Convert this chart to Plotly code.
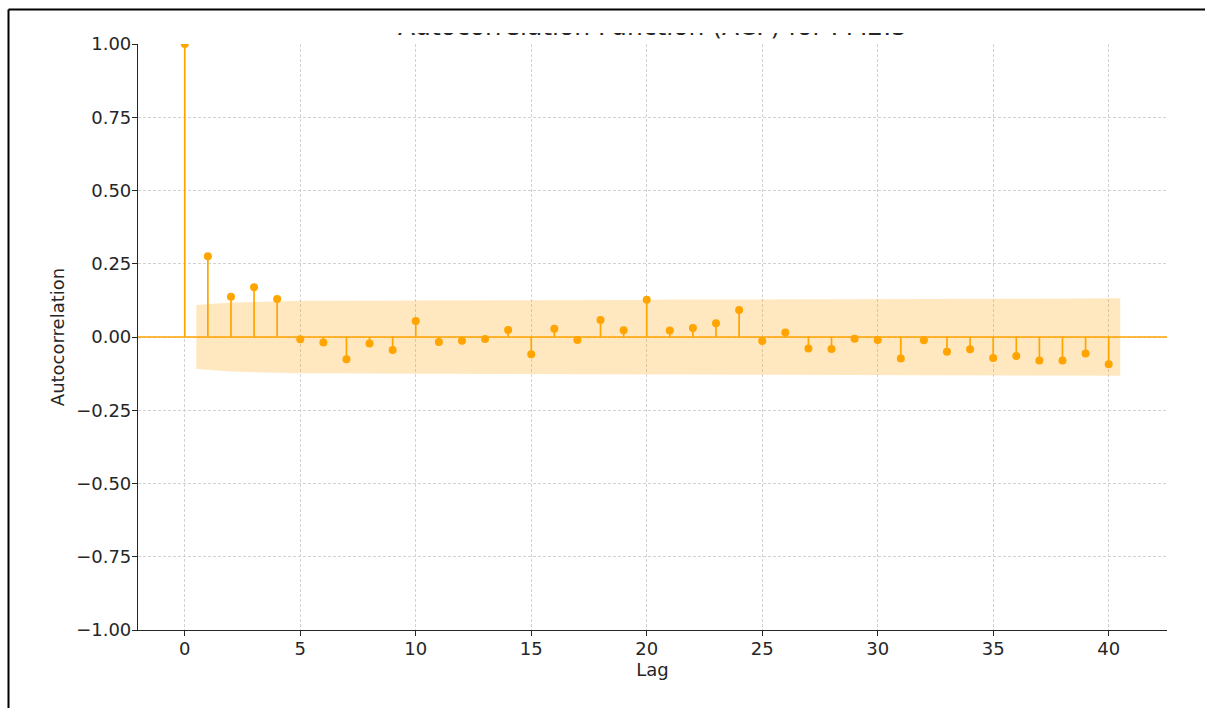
import numpy as np
import plotly.graph_objects as go

# Autocorrelation values for lags 0..40
lags = list(range(41))
acf_values = [
    1.000, 0.276, 0.137, 0.170, 0.130, -0.008, -0.019, -0.076, -0.022, -0.044,
    0.055, -0.017, -0.013, -0.007, 0.024, -0.059, 0.028, -0.010, 0.058, 0.023,
    0.127, 0.022, 0.031, 0.047, 0.092, -0.014, 0.015, -0.039, -0.041, -0.006,
    -0.010, -0.073, -0.011, -0.050, -0.042, -0.072, -0.065, -0.080, -0.080, -0.056,
    -0.093,
]
n_obs = 320          # length of the underlying series
z_crit = 1.96        # 95% confidence
x_ticks = [0, 5, 10, 15, 20, 25, 30, 35, 40]
y_ticks = [-1.0, -0.75, -0.5, -0.25, 0.0, 0.25, 0.5, 0.75, 1.0]
title_text = "Autocorrelation Function (ACF) for PM2.5"

ORANGE = "#FFA500"
FONT = "DejaVu Sans"

# Bartlett confidence band (centred at zero), lags 1..40
r = np.array(acf_values)
var = np.ones(len(r)) / n_obs
var[2:] *= 1 + 2 * np.cumsum(r[1:-1] ** 2)
half = z_crit * np.sqrt(var[1:])
band_x = np.array(lags[1:], dtype=float)
band_x[0] -= 0.5
band_x[-1] += 0.5

# stem segments
stem_x, stem_y = [], []
for k, v in zip(lags, acf_values):
    stem_x += [k, k, None]
    stem_y += [0, v, None]

W, H = 1205, 708
ML, MR, MT, MB = 138, 38, 33, 78
plot_w = W - ML - MR
plot_h = H - MT - MB
main_top = (plot_h - 11) / plot_h


def px_x(px):
    return (px - ML) / plot_w


def px_y(py):
    return (H - MB - py) / plot_h


fig = go.Figure()
fig.add_trace(go.Scatter(x=stem_x, y=stem_y, mode="lines",
                         line=dict(color=ORANGE, width=1.7), hoverinfo="skip",
                         showlegend=False))
fig.add_trace(go.Scatter(x=lags, y=acf_values, mode="markers",
                         marker=dict(color=ORANGE, size=8), cliponaxis=True,
                         showlegend=False))
fig.add_trace(go.Scatter(x=np.concatenate([band_x, band_x[::-1]]),
                         y=np.concatenate([half, -half[::-1]]),
                         fill="toself", fillcolor="rgba(255,165,0,0.25)",
                         line=dict(width=0), mode="lines", hoverinfo="skip",
                         showlegend=False))

# title sits in a thin strip above the axes; its upper part is masked below
fig.add_trace(go.Scatter(x=[0.5], y=[0.23], mode="text", text=[title_text],
                         textposition="top center", cliponaxis=False,
                         textfont=dict(family=FONT, size=25, color="#262626"),
                         xaxis="x2", yaxis="y2", showlegend=False,
                         hoverinfo="skip"))

axis_font = dict(family=FONT, size=18, color="#262626")
fig.update_layout(
    width=W, height=H,
    margin=dict(l=ML, r=MR, t=MT, b=MB),
    paper_bgcolor="white", plot_bgcolor="white",
    font=axis_font,
    xaxis=dict(range=[-2.025, 42.525], tickvals=x_ticks, showgrid=True,
               gridcolor="#d2d2d2", gridwidth=0.8, griddash="3px,2px",
               zeroline=False, showline=True, linecolor="#262626",
               linewidth=1.2, ticks="outside", ticklen=5, tickcolor="#262626",
               tickfont=axis_font, ticklabelstandoff=-3,
               title=dict(text="Lag", font=axis_font, standoff=4)),
    yaxis=dict(domain=[0, main_top], range=[-1, 1], tickvals=y_ticks,
               tickformat=".2f", showgrid=True, gridcolor="#d2d2d2",
               gridwidth=0.8, griddash="3px,2px", zeroline=False,
               showline=True, linecolor="#262626", linewidth=1.2,
               ticks="outside", ticklen=5, tickcolor="#262626",
               tickfont=axis_font, ticklabelstandoff=-3,
               title=dict(text="Autocorrelation", font=axis_font, standoff=6)),
    xaxis2=dict(domain=[0, 1], range=[0, 1], visible=False, anchor="y2"),
    yaxis2=dict(domain=[main_top, 1], range=[0, 1], visible=False,
                anchor="x2"),
    shapes=[
        dict(type="line", xref="paper", yref="y", x0=0, x1=1, y0=0, y1=0,
             line=dict(color=ORANGE, width=1.7), layer="above"),
        # mask over the upper part of the title
        dict(type="rect", xref="paper", yref="paper",
             x0=px_x(10), x1=px_x(W), y0=px_y(33), y1=px_y(10.5),
             fillcolor="white", line=dict(width=0), layer="above"),
        # outer frame
        dict(type="line", xref="paper", yref="paper",
             x0=px_x(8.5), x1=px_x(8.5), y0=px_y(9.5), y1=px_y(H),
             line=dict(color="black", width=2), layer="above"),
        dict(type="line", xref="paper", yref="paper",
             x0=px_x(8.5), x1=px_x(W), y0=px_y(9.5), y1=px_y(9.5),
             line=dict(color="black", width=2), layer="above"),
    ],
)

fig.write_html("out.html", config={"displayModeBar": False})
